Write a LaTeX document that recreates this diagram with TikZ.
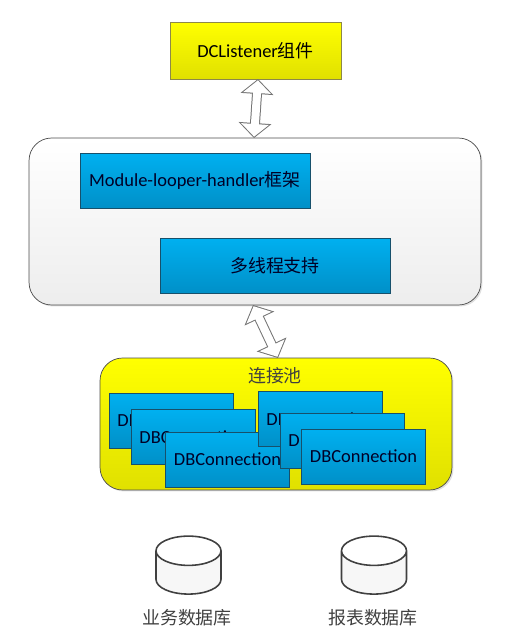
\documentclass[tikz,border=0pt]{standalone}
\usepackage{fontspec}
\setmainfont{Carlito}
\newfontfamily\cjk{Noto Sans CJK SC}
\usetikzlibrary{shapes.geometric, arrows.meta, shadows}
\definecolor{boxtop}{HTML}{00B0F0}
\definecolor{boxbottom}{HTML}{0090C8}
\definecolor{boxline}{HTML}{17506B}

\begin{document}
\begin{tikzpicture}[
    x=0.02cm, y=-0.02cm,
    font=\fontsize{10.5pt}{12pt}\selectfont,
    bluebox/.style={rectangle, draw=boxline, top color=boxtop, bottom color=boxbottom,
                    text=black!85!blue, outer sep=0pt, align=center},
    wide/.style={bluebox, minimum width=4.6cm, minimum height=1.1cm},
    conn/.style={bluebox, minimum width=2.48cm, minimum height=1.1cm},
    holder/.style={rectangle, rounded corners=0.45cm, outer sep=0pt,
                   drop shadow={shadow xshift=0.03cm, shadow yshift=-0.03cm, opacity=0.25}},
    store/.style={cylinder, shape border rotate=90, aspect=2.5, draw=black!75, line width=0.9pt,
                  minimum width=1.3cm, minimum height=1.16cm, outer sep=0pt,
                  cylinder uses custom fill, cylinder body fill=black!3, cylinder end fill=white},
    caption/.style={font=\fontsize{10.2pt}{12pt}\selectfont\cjk, text=black!75},
    hollow/.style={white, line width=0.16cm, shorten <=0.027cm, shorten >=0.027cm,
                   {Triangle[length=0.253cm, width=0.54cm]}-{Triangle[length=0.253cm, width=0.54cm]},
                   preaction={draw=black!55, line width=0.2cm, shorten <=0pt, shorten >=0pt,
                   {Triangle[length=0.3cm, width=0.64cm]}-{Triangle[length=0.3cm, width=0.64cm]}}},
]

\useasboundingbox (0,0) rectangle (508,639);

\node[rectangle, draw=black!30!yellow!70!black, top color=yellow, bottom color=yellow!88!black, outer sep=0pt,
      minimum width=3.42cm, minimum height=1.14cm] (listener) at (255.5,50.5) {DCListener{\cjk\fontsize{10.2pt}{12pt}\selectfont 组件}};

\node[holder, draw=black!70, top color=white, bottom color=black!7,
      minimum width=9.04cm, minimum height=3.34cm] (core) at (255,221.5) {};
\node[wide] (module) at (195,180.5) {Module-looper-handler{\cjk\fontsize{10.2pt}{12pt}\selectfont 框架}};
\node[wide] (thread) at (275,265.5) {\cjk\fontsize{10.2pt}{12pt}\selectfont 多线程支持};

\node[holder, draw=black!70, top color=yellow, bottom color=yellow!88!black,
      minimum width=7.04cm, minimum height=2.64cm] (pool) at (276,424) {};
\node[caption] (poolname) at (275,376) {连接池};

\node[conn] (conna) at (171,420.5) {DBConnection};
\node[conn] (connb) at (193,437) {DBConnection};
\node[conn] (connc) at (227.5,459.5) {DBConnection};
\node[conn] (connd) at (320,419) {DBConnection};
\node[conn] (conne) at (342,440.5) {DBConnection};
\node[conn] (connf) at (363.5,456.5) {DBConnection};

\node[store] (bizdb) at (188.5,577) {};
\node[store] (reportdb) at (374,577) {};
\node[caption] (bizname) at (187,618) {业务数据库};
\node[caption] (reportname) at (373,618) {报表数据库};

\draw[hollow] ([xshift=0.05cm]listener.south) -- ([xshift=-0.02cm]core.north);
\draw[hollow] ([xshift=-0.04cm]core.south) -- ([xshift=0.04cm]pool.north);

\end{tikzpicture}
\end{document}
